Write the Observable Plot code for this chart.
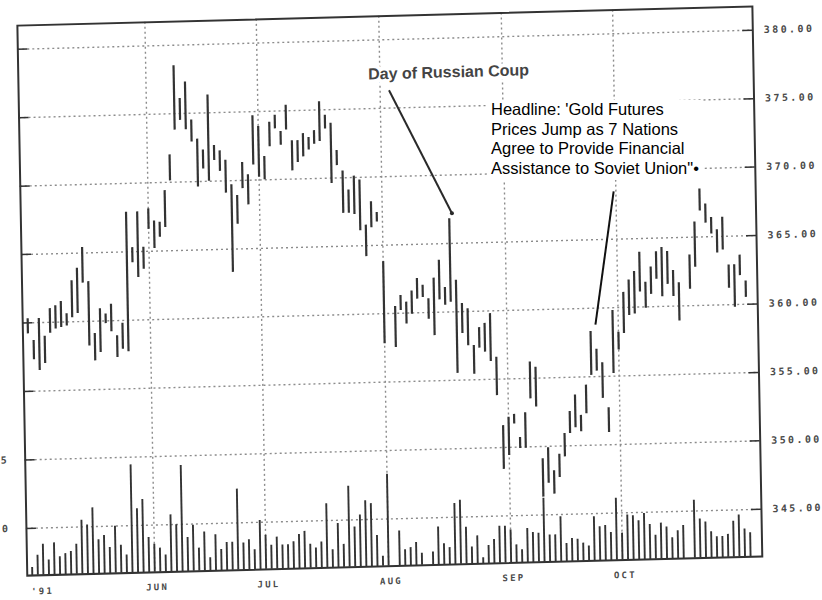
<!DOCTYPE html>
<html><head><meta charset="utf-8">
<script src="https://cdn.jsdelivr.net/npm/d3@7"></script>
<script src="https://cdn.jsdelivr.net/npm/@observablehq/plot@0.6"></script>
<style>
html,body{margin:0;padding:0;background:#fff;}
#wrap{position:relative;width:822px;height:600px;overflow:hidden;background:#fff;}
#chart{position:absolute;left:0;top:0;width:822px;height:600px;transform-origin:411px 300px;transform:matrix(1,-0.026,0.018,1,0,0);}
#chart svg{position:absolute;left:0;top:0;}
#headline{position:absolute;left:487px;top:100px;padding:0 4px 2px 4px;background:#fff;font-family:"Liberation Sans",Arial,sans-serif;font-size:16.5px;line-height:19.5px;color:#000;white-space:pre;}
</style></head><body>
<div id="wrap"><div id="chart"></div><div id="headline">Headline: 'Gold Futures
Prices Jump as 7 Nations
Agree to Provide Financial
Assistance to Soviet Union"•</div></div>
<script>
// Gold futures, daily trading sessions May 1 – Oct 31, 1991 (index = trading day)
const high = [
360.3,358.7,360.3,359.0,361.0,361.2,361.5,360.6,363.0,363.9,
365.4,362.9,359.1,360.9,360.5,361.2,358.9,359.8,367.9,365.3,
367.9,365.3,368.1,367.2,367.1,369.4,372.0,378.5,376.1,377.3,
374.5,373.1,372.3,376.3,372.6,372.2,371.5,369.7,368.9,371.3,
370.4,374.7,373.9,371.7,374.2,374.7,373.5,375.4,372.8,372.8,
373.3,373.0,373.5,375.6,374.6,374.0,372.0,370.5,369.1,370.1,
369.8,366.5,368.2,367.4,363.8,null,360.5,361.3,360.8,361.6,
362.5,362.0,361.0,362.5,363.8,361.8,366.8,362.3,360.6,360.2,
357.5,358.8,359.1,359.8,356.6,351.6,352.2,352.4,350.7,352.5,
356.2,355.8,349.1,349.9,348.2,349.4,350.9,352.5,353.7,352.2,
354.4,358.3,357.0,356.0,352.7,359.8,358.2,361.1,362.0,362.6,
364.0,361.8,362.9,364.0,364.3,364.0,362.6,361.7,null,363.7,
366.1,368.5,367.4,366.4,365.5,366.4,362.9,362.9,363.6,361.7];
const low = [
359.2,357.3,356.5,357.0,359.2,359.5,359.6,359.7,360.3,360.6,
362.8,358.2,357.1,357.7,359.8,359.2,357.3,357.9,357.7,364.2,
363.1,363.7,366.6,365.2,366.0,366.7,370.1,373.8,374.5,373.8,
372.9,369.6,370.9,370.0,371.5,370.7,369.1,363.3,366.8,369.4,
368.2,371.1,370.2,370.0,372.4,373.7,372.5,373.6,370.6,371.2,
371.6,372.1,372.5,372.7,373.6,369.6,370.9,367.4,367.4,367.3,
366.1,364.2,366.3,366.7,357.8,null,357.5,360.2,359.2,359.9,
361.0,361.1,359.5,358.3,360.9,360.5,360.7,355.5,358.4,357.5,
355.4,357.3,357.0,356.3,353.8,348.4,349.4,351.7,349.9,349.9,
353.5,352.9,346.3,347.3,346.5,347.7,349.2,350.9,351.3,351.0,
352.3,355.1,355.4,353.4,350.9,355.2,356.9,358.1,359.4,359.5,
361.1,359.9,360.9,362.0,360.7,361.6,360.7,358.9,null,361.2,
362.8,366.9,366.0,365.2,363.8,364.0,361.2,359.8,362.1,360.5];
const volume = [
8,20,31,15,32,18,21,23,30,54,49,66,34,38,26,47,28,18,108,64,73,35,
28,24,17,57,47,106,34,46,23,39,13,36,21,28,28,81,27,30,20,49,
34,24,32,24,24,27,34,37,24,20,26,64,18,44,23,81,40,52,66,63,31,10,
92,null,35,16,18,23,12,null,13,38,21,17,61,64,37,17,28,6,18,24,37,37,
33,18,13,34,30,29,64,27,27,45,18,23,22,18,15,44,34,35,28,62,
27,45,44,39,46,35,24,36,32,21,28,33,null,58,39,36,26,21,21,23,36,42,28,24];

const priceTicks = [345,350,355,360,365,370,375,380];
const monthLabels = ["JUN","JUL","AUG","SEP","OCT"];
const monthStart = [22,42,64,86,106];
const yearLabel = "'91";
const leftAxisValues = [350,345];
const leftAxisText = ["5","0"];

// annotations (data units: trading-day index, price)
const coupNote = {text:"Day of Russian Coup", x:61.9, y:377.5, x1:65.6, y1:376.3, x2:76.5, y2:367.2};
const headNote = {x1:105.6, y1:368.5, x2:101.9, y2:358.8};

const W=822, H=600;
const M = {marginLeft:22, marginRight:65, marginTop:15, marginBottom:35};
const xDomain = [-0.9, 131.1];
const priceDomain = [341.55, 381.73];
const volDomain = [0, 550];
const grid = "#8c8c8c";
const ink = "#333";
const mono = "DejaVu Sans Mono";

const days = d3.range(high.length).map(i => ({i, high: high[i], low: low[i], vol: volume[i]}));
const bars = days.filter(d => d.high != null && d.low != null);
const vols = days.filter(d => d.vol != null);
const tickLen = 1.8;

const main = Plot.plot({
  width: W, height: H, ...M,
  x: {type: "linear", domain: xDomain, axis: null},
  y: {type: "linear", domain: priceDomain, axis: null},
  style: {background: "transparent", overflow: "visible"},
  marks: [
    Plot.ruleY(priceTicks, {stroke: grid, strokeWidth: 1.4, strokeDasharray: "2,3"}),
    Plot.ruleX(monthStart, {stroke: grid, strokeWidth: 1.4, strokeDasharray: "2,3"}),
    Plot.ruleY(priceTicks, {x1: xDomain[0], x2: xDomain[0] + tickLen, stroke: ink, strokeWidth: 1.5}),
    Plot.ruleY(priceTicks, {x1: xDomain[1] - tickLen, x2: xDomain[1], stroke: ink, strokeWidth: 1.5}),
    Plot.frame({stroke: ink, strokeWidth: 2}),
    Plot.ruleX(bars, {x: "i", y1: "low", y2: "high", stroke: ink, strokeWidth: 2.2}),
    Plot.text(priceTicks, {y: d => d, frameAnchor: "right", dx: 11, text: d => d.toFixed(2), textAnchor: "start",
      fontFamily: mono, fontSize: 10, fontWeight: "bold", fill: "#4a4a4a"}),
    Plot.text(leftAxisValues, {y: d => d, frameAnchor: "left", dx: -16, text: (d, i) => leftAxisText[i], textAnchor: "end",
      fontFamily: mono, fontSize: 10, fontWeight: "bold", fill: "#4a4a4a"}),
    Plot.text(monthLabels, {x: (d, i) => monthStart[i], frameAnchor: "bottom", dy: 18, dx: 2.5, text: d => d,
      fontFamily: mono, fontSize: 9, fontWeight: "bold", fill: "#4a4a4a"}),
    Plot.text([yearLabel], {x: 0, frameAnchor: "bottom", dy: 19, dx: 10, text: d => d,
      fontFamily: mono, fontSize: 9, fontWeight: "bold", fill: "#4a4a4a"}),
    Plot.link([coupNote], {x1: "x1", y1: "y1", x2: "x2", y2: "y2", stroke: "#2a2a2a", strokeWidth: 2}),
    Plot.dot([coupNote], {x: "x2", y: "y2", r: 2, fill: "#2a2a2a"}),
    Plot.text([coupNote], {x: "x", y: "y", text: "text", textAnchor: "start", fontFamily: "Liberation Sans",
      fontSize: 16, fontWeight: "bold", fill: "#444", stroke: "white", strokeWidth: 8}),
    Plot.link([headNote], {x1: "x1", y1: "y1", x2: "x2", y2: "y2", stroke: "#111", strokeWidth: 2})
  ]
});

const volPlot = Plot.plot({
  width: W, height: H, ...M,
  x: {type: "linear", domain: xDomain, axis: null},
  y: {type: "linear", domain: volDomain, axis: null},
  style: {background: "transparent", overflow: "visible"},
  marks: [
    Plot.ruleX(vols, {x: "i", y1: 0, y2: "vol", stroke: ink, strokeWidth: 1.9})
  ]
});

const chart = document.getElementById("chart");
chart.appendChild(main);
chart.appendChild(volPlot);
for (const g of chart.querySelectorAll('g[font-family="' + mono + '"]')) {
  g.setAttribute("letter-spacing", g.getAttribute("font-size") === "9" ? "2.2" : "2.4");
}
</script>
</body></html>
